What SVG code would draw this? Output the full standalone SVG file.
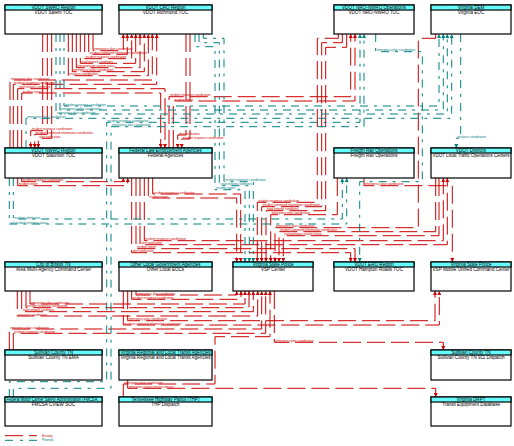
<svg xmlns="http://www.w3.org/2000/svg" width="514" height="446" viewBox="0 0 514 446">
<style>
.box{fill:#fff;stroke:#000;stroke-width:1.2}
.hdr{fill:#66ffff;stroke:#000;stroke-width:1.2}
.nt{font-family:"Liberation Sans",Arial,sans-serif;font-size:4.6px;fill:#000;text-anchor:middle}
.r{fill:none;stroke:#cc0000;stroke-width:1;stroke-dasharray:18 6;marker-end:url(#ar)}
.t{fill:none;stroke:#008080;stroke-width:1;stroke-dasharray:8 6 3 6;marker-end:url(#at)}
.lr{font-family:"Liberation Sans",Arial,sans-serif;font-size:3px;fill:#cc0000}
.lt{font-family:"Liberation Sans",Arial,sans-serif;font-size:3px;fill:#008080}
</style>
<defs>
<marker id="ar" markerUnits="userSpaceOnUse" markerWidth="4" markerHeight="4" refX="4" refY="2" orient="auto"><path d="M0,0 L4,2 L0,4 z" fill="#cc0000"/></marker>
<marker id="at" markerUnits="userSpaceOnUse" markerWidth="4" markerHeight="4" refX="4" refY="2" orient="auto"><path d="M0,0 L4,2 L0,4 z" fill="#008080"/></marker>
</defs>
<rect width="514" height="446" fill="#fff"/>
<g id="connectors">
<path class="r" d="M93,34 V50.7 H123.3 V34"/>
<path class="r" d="M88.7,34 V54.3 H127.3 V34"/>
<path class="r" d="M84.7,34 V58.7 H131.7 V34"/>
<path class="r" d="M80.3,34 V63.3 H135.7 V34"/>
<path class="r" d="M76.3,34 V67.7 H140 V34"/>
<path class="r" d="M72.3,34 V71.7 H144.3 V34"/>
<path class="r" d="M68.3,34 V75.7 H148.3 V34"/>
<path class="r" d="M10,148 V80 H152.3 V34"/>
<path class="r" d="M13.3,148 V84.3 H156.7 V34"/>
<path class="r" d="M17.7,148 V88.7 H165 V148"/>
<path class="r" d="M21.7,148 V93 H160.7 V148"/>
<path class="r" d="M42.7,34 V130.7 H30.7 V148"/>
<path class="r" d="M47.3,34 V134.3 H34.7 V148"/>
<path class="r" d="M51.7,34 V138.3 H38.3 V148"/>
<path class="r" d="M186,34 V135 H177.7 V148"/>
<path class="r" d="M190,34 V139 H181.7 V148"/>
<path class="r" d="M169,148 V96.7 H350.7 V34"/>
<path class="r" d="M173.3,148 V101 H355 V34"/>
<path class="r" d="M338.3,34 V38.3 H317.3 V202.3 H257.3 V262"/>
<path class="r" d="M342.3,34 V42.7 H321.7 V206.7 H261.7 V262"/>
<path class="r" d="M346.7,34 V47.3 H325.7 V210.7 H266 V262"/>
<path class="r" d="M337.3,178 V214.7 H270.7 V262"/>
<path class="r" d="M435.7,34 V38.3 H418.3 V227.7 H275 V262"/>
<path class="r" d="M435.7,178 V231.7 H279 V262"/>
<path class="r" d="M439,178 V235.7 H283.3 V262"/>
<path class="r" d="M152.7,178 V194 H240.7 V262"/>
<path class="r" d="M148.3,178 V198 H236.7 V262"/>
<path class="r" d="M144.3,178 V240.7 H443.3 V178"/>
<path class="r" d="M140,178 V244.7 H447.3 V178"/>
<path class="r" d="M136,178 V248.7 H355 V262"/>
<path class="r" d="M131.7,178 V252.7 H350.7 V262"/>
<path class="r" d="M21.7,178 V181.7 H123.3 V178"/>
<path class="r" d="M17.7,178 V185.7 H127.7 V178"/>
<path class="r" d="M364,178 V185.7 H452.3 V262"/>
<path class="r" d="M274.3,291 V342.3 H443.3 V350"/>
<path class="r" d="M136,291 V295 H236.7 V291"/>
<path class="r" d="M131.7,291 V299.3 H241 V291"/>
<path class="r" d="M30,291 V304 H245 V291"/>
<path class="r" d="M26,291 V307.7 H249 V291"/>
<path class="r" d="M21.7,291 V311.7 H253.3 V291"/>
<path class="r" d="M17.3,291 V316 H257.7 V291"/>
<path class="r" d="M127.7,291 V320.7 H435 V291"/>
<path class="r" d="M123.3,291 V325 H439.3 V291"/>
<path class="r" d="M9.3,350 V329 H261.7 V291"/>
<path class="r" d="M13.3,350 V333.3 H265.7 V291"/>
<path class="r" d="M123.3,397 V384 H215 V336.7 H270 V291"/>
<path class="r" d="M127.7,380 V388.3 H435.7 V397"/>
<path class="t" d="M64,34 V106 H439 V34"/>
<path class="t" d="M60,34 V110 H443.3 V34"/>
<path class="t" d="M56,34 V114 H447.3 V34"/>
<path class="t" d="M26,148 V118.3 H451.7 V34"/>
<path class="t" d="M9.3,397 V381.7 H106.7 V122.3 H360 V34"/>
<path class="t" d="M13.3,397 V388.3 H111 V126.7 H364 V34"/>
<path class="t" d="M375.7,34 V51.7 H422.3 V181.7 H359.7 V262"/>
<path class="t" d="M460.7,34 V138.3 H456.3 V148"/>
<path class="t" d="M203.3,34 V38.3 H224 V181.7 H253.3 V262"/>
<path class="t" d="M199,34 V42.7 H219.3 V185.7 H249.3 V262"/>
<path class="t" d="M195,34 V46.7 H215 V189.7 H245 V262"/>
<path class="t" d="M13.3,178 V219 H342.3 V178"/>
<path class="t" d="M9.3,178 V224 H346.7 V178"/>
<text class="lr" x="94" y="50.3">emergency plan coordination</text>
<text class="lr" x="89.7" y="53.9">incident command information coordination</text>
<text class="lr" x="85.7" y="58.3">incident response coordination</text>
<text class="lr" x="81.3" y="62.9">road network conditions</text>
<text class="lr" x="77.3" y="67.3">transportation system status</text>
<text class="lr" x="73.3" y="71.3">emergency traffic coordination</text>
<text class="lr" x="69.3" y="75.3">resource coordination</text>
<text class="lr" x="11" y="79.6">emergency plan coordination</text>
<text class="lr" x="14.3" y="83.9">incident response coordination</text>
<text class="lr" x="18.7" y="88.3">road network conditions</text>
<text class="lr" x="22.7" y="92.6">incident report</text>
<text class="lr" x="31.7" y="130.3">incident response coordination</text>
<text class="lr" x="35.7" y="133.9">incident command information coordination</text>
<text class="lr" x="39.3" y="137.9">alert notification</text>
<text class="lr" x="178.7" y="134.6">alert notification</text>
<text class="lr" x="182.7" y="138.6">incident response coordination</text>
<text class="lr" x="170" y="96.3">incident response coordination</text>
<text class="lr" x="174.3" y="100.6">incident report</text>
<text class="lr" x="258.3" y="201.9">incident response coordination</text>
<text class="lr" x="262.7" y="206.3">incident command information coordination</text>
<text class="lr" x="267" y="210.3">road network conditions</text>
<text class="lr" x="271.7" y="214.3">emergency plan coordination</text>
<text class="lr" x="276" y="227.3">emergency plan coordination</text>
<text class="lr" x="280" y="231.3">incident command information coordination</text>
<text class="lr" x="284.3" y="235.3">transportation system status</text>
<text class="lr" x="153.7" y="193.6">incident response coordination</text>
<text class="lr" x="149.3" y="197.6">incident report</text>
<text class="lr" x="145.3" y="240.3">incident response coordination</text>
<text class="lr" x="141" y="244.3">alert notification</text>
<text class="lr" x="137" y="248.3">incident report</text>
<text class="lr" x="132.7" y="252.3">alert notification</text>
<text class="lr" x="22.7" y="181.3">incident response coordination</text>
<text class="lr" x="18.7" y="185.3">incident report</text>
<text class="lr" x="365" y="185.3">emergency plan coordination</text>
<text class="lr" x="275.3" y="341.9">emergency plan coordination</text>
<text class="lr" x="137" y="294.6">emergency plan coordination</text>
<text class="lr" x="132.7" y="298.9">incident response coordination</text>
<text class="lr" x="31" y="303.6">emergency plan coordination</text>
<text class="lr" x="27" y="307.3">incident response coordination</text>
<text class="lr" x="22.7" y="311.3">road network conditions</text>
<text class="lr" x="18.3" y="315.6">resource coordination</text>
<text class="lr" x="128.7" y="320.3">emergency plan coordination</text>
<text class="lr" x="124.3" y="324.6">incident command information coordination</text>
<text class="lr" x="10.3" y="328.6">emergency plan coordination</text>
<text class="lr" x="14.3" y="332.9">incident response coordination</text>
<text class="lr" x="124.3" y="383.6">emergency plan coordination</text>
<text class="lr" x="128.7" y="387.9">emergency transit service request</text>
<text class="lt" x="65" y="105.6">incident response coordination</text>
<text class="lt" x="61" y="109.6">emergency traffic coordination</text>
<text class="lt" x="57" y="113.6">emergency plan coordination</text>
<text class="lt" x="27" y="117.9">emergency plan coordination</text>
<text class="lt" x="107.7" y="121.9">incident response coordination</text>
<text class="lt" x="112" y="126.3">emergency plan coordination</text>
<text class="lt" x="376.7" y="51.3">emergency plan coordination</text>
<text class="lt" x="457.3" y="137.9">resource coordination</text>
<text class="lt" x="225" y="181.3">incident response coordination</text>
<text class="lt" x="220.3" y="185.3">road network conditions</text>
<text class="lt" x="216" y="189.3">incident report</text>
<text class="lt" x="14.3" y="218.6">incident information</text>
<text class="lt" x="10.3" y="223.6">rail incident response status</text>
</g>
<g id="vdot-salem-toc"><rect class="box" x="5" y="5" width="97" height="29"/><rect class="hdr" x="5" y="5" width="97" height="5"/><text class="nt" x="53.5" y="9.2">VDOT SWRO Region</text><text class="nt" x="53.5" y="14.3">VDOT Salem TOC</text></g>
<g id="vdot-richmond-toc"><rect class="box" x="119" y="5" width="93" height="29"/><rect class="hdr" x="119" y="5" width="93" height="5"/><text class="nt" x="165.5" y="9.2">VDOT CRO Region</text><text class="nt" x="165.5" y="14.3">VDOT Richmond TOC</text></g>
<g id="vdot-nro-toc"><rect class="box" x="334" y="5" width="80" height="29"/><rect class="hdr" x="334" y="5" width="80" height="5"/><text class="nt" x="374" y="9.2">VDOT NRO-NWRO Operations</text><text class="nt" x="374" y="14.3">VDOT NRO-NWRO TOC</text></g>
<g id="virginia-eoc"><rect class="box" x="431" y="5" width="80" height="29"/><rect class="hdr" x="431" y="5" width="80" height="5"/><text class="nt" x="471" y="9.2">Virginia DEM</text><text class="nt" x="471" y="14.3">Virginia EOC</text></g>
<g id="vdot-staunton-toc"><rect class="box" x="5" y="148" width="97" height="30"/><rect class="hdr" x="5" y="148" width="97" height="5"/><text class="nt" x="53.5" y="152.2">VDOT NWRO Region</text><text class="nt" x="53.5" y="157.3">VDOT Staunton TOC</text></g>
<g id="federal-law-enforcement"><rect class="box" x="119" y="148" width="93" height="30"/><rect class="hdr" x="119" y="148" width="93" height="5"/><text class="nt" x="165.5" y="152.2">Federal Law Enforcement Agencies</text><text class="nt" x="165.5" y="157.3">Federal Agencies</text></g>
<g id="freight-rail"><rect class="box" x="334" y="148" width="80" height="30"/><rect class="hdr" x="334" y="148" width="80" height="5"/><text class="nt" x="374" y="152.2">Freight Rail Operations</text><text class="nt" x="374" y="157.3">Freight Rail Operations</text></g>
<g id="vdot-local-toc"><rect class="box" x="431" y="148" width="80" height="30"/><rect class="hdr" x="431" y="148" width="80" height="5"/><text class="nt" x="471" y="152.2">VDOT Districts</text><text class="nt" x="471" y="157.3" textLength="77" lengthAdjust="spacingAndGlyphs">VDOT Local Traffic Operations Centers</text></g>
<g id="bristol-command"><rect class="box" x="5" y="262" width="97" height="29"/><rect class="hdr" x="5" y="262" width="97" height="5"/><text class="nt" x="53.5" y="266.2">City of Bristol TN</text><text class="nt" x="53.5" y="271.3">Area Multi-Agency Command Center</text></g>
<g id="other-local-eocs"><rect class="box" x="119" y="262" width="93" height="29"/><rect class="hdr" x="119" y="262" width="93" height="5"/><text class="nt" x="165.5" y="266.2">Other Local Government Agencies</text><text class="nt" x="165.5" y="271.3">Other Local EOCs</text></g>
<g id="vsp-center"><rect class="box" x="233" y="262" width="80" height="29"/><rect class="hdr" x="233" y="262" width="80" height="5"/><text class="nt" x="273" y="266.2">Virginia State Police</text><text class="nt" x="273" y="271.3">VSP Center</text></g>
<g id="vdot-hampton-roads-toc"><rect class="box" x="334" y="262" width="80" height="29"/><rect class="hdr" x="334" y="262" width="80" height="5"/><text class="nt" x="374" y="266.2">VDOT ERO Region</text><text class="nt" x="374" y="271.3">VDOT Hampton Roads TOC</text></g>
<g id="vsp-mobile-command"><rect class="box" x="431" y="262" width="80" height="29"/><rect class="hdr" x="431" y="262" width="80" height="5"/><text class="nt" x="471" y="266.2">Virginia State Police</text><text class="nt" x="471" y="271.3" textLength="77" lengthAdjust="spacingAndGlyphs">VSP Mobile Unified Command Center</text></g>
<g id="sullivan-ema"><rect class="box" x="5" y="350" width="97" height="30"/><rect class="hdr" x="5" y="350" width="97" height="5"/><text class="nt" x="53.5" y="354.2">Sullivan County TN</text><text class="nt" x="53.5" y="359.3">Sullivan County TN EMA</text></g>
<g id="va-transit-agencies"><rect class="box" x="119" y="350" width="93" height="30"/><rect class="hdr" x="119" y="350" width="93" height="5"/><text class="nt" x="165.5" y="354.2" textLength="90" lengthAdjust="spacingAndGlyphs">Virginia Regional and Local Transit Agencies</text><text class="nt" x="165.5" y="359.3" textLength="90" lengthAdjust="spacingAndGlyphs">Virginia Regional and Local Transit Agencies</text></g>
<g id="sullivan-911"><rect class="box" x="431" y="350" width="80" height="30"/><rect class="hdr" x="431" y="350" width="80" height="5"/><text class="nt" x="471" y="354.2">Sullivan County TN</text><text class="nt" x="471" y="359.3">Sullivan County TN 911 Dispatch</text></g>
<g id="fmcsa"><rect class="box" x="5" y="397" width="97" height="29"/><rect class="hdr" x="5" y="397" width="97" height="5"/><text class="nt" x="53.5" y="401.2" textLength="94" lengthAdjust="spacingAndGlyphs">Federal Motor Carrier Safety Administration (FMCSA...</text><text class="nt" x="53.5" y="406.3">FMCSA CVIEW SOC</text></g>
<g id="thp-dispatch"><rect class="box" x="119" y="397" width="93" height="29"/><rect class="hdr" x="119" y="397" width="93" height="5"/><text class="nt" x="165.5" y="401.2">Tennessee Highway Patrol (THP)</text><text class="nt" x="165.5" y="406.3">THP Dispatch</text></g>
<g id="drpt-database"><rect class="box" x="431" y="397" width="80" height="29"/><rect class="hdr" x="431" y="397" width="80" height="5"/><text class="nt" x="471" y="401.2">Virginia DRPT</text><text class="nt" x="471" y="406.3">Transit Equipment Database</text></g>
<g id="legend">
<path d="M5,435.7 H37" fill="none" stroke="#cc0000" stroke-width="1" stroke-dasharray="18 6"/>
<path d="M5,440.3 H37" fill="none" stroke="#008080" stroke-width="1" stroke-dasharray="8 7 3 6"/>
<text class="lr" x="42" y="436.7">Existing</text>
<text class="lt" x="42" y="441.3">Planned</text>
</g>
</svg>
